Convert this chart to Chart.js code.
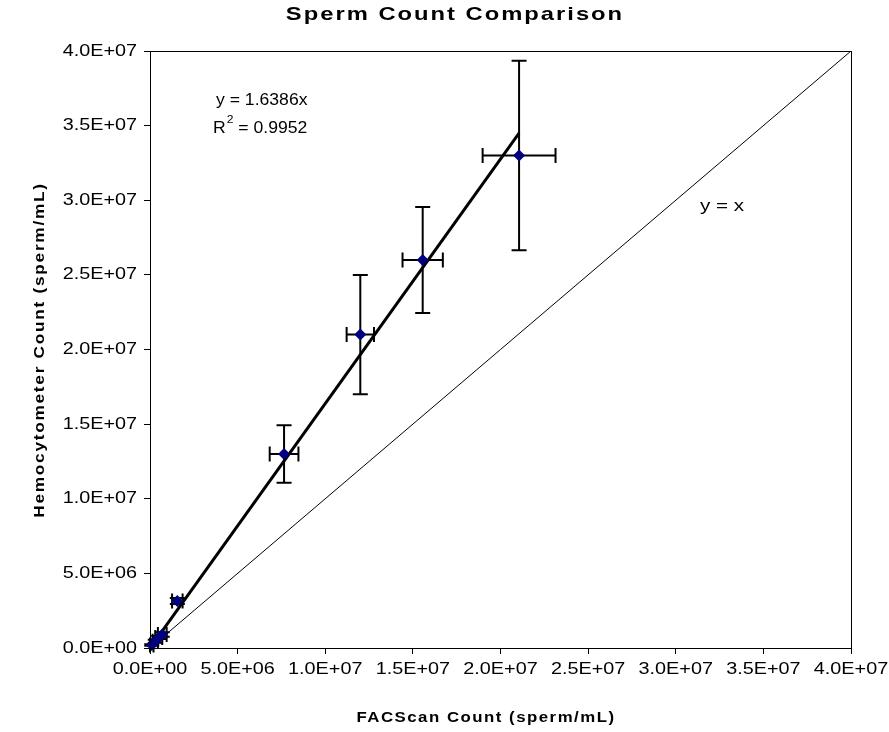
<!DOCTYPE html>
<html>
<head>
<meta charset="utf-8">
<script src="https://cdn.jsdelivr.net/npm/chart.js@4"></script>
<style>
  html, body { margin: 0; padding: 0; background: #fff; }
  #wrap { width: 889px; height: 732px; }
</style>
</head>
<body>
<div id="wrap"><canvas id="chart" width="889" height="732"></canvas></div>
<script>
// values (sperm/mL)
const facsCount = [0.1e6, 0.3e6, 0.5e6, 0.7e6, 1.56e6, 7.65e6, 12.0e6, 15.56e6, 21.06e6];
const hemoCount = [0.2e6, 0.45e6, 0.7e6, 0.9e6, 3.15e6, 13.0e6, 21.0e6, 26.0e6, 33.0e6];
const facsErr = [0.1e6, 0.15e6, 0.2e6, 0.25e6, 0.3e6, 0.82e6, 0.78e6, 1.15e6, 2.08e6];
const hemoErr = [0.05e6, 0.1e6, 0.1e6, 0.15e6, 0.2e6, 1.93e6, 4.0e6, 3.55e6, 6.35e6];

// fitted line y = 1.6386x, end points as drawn
const trendX = [0.1e6, 21.06e6];
const trendY = [0.16e6, 34.5e6];

// reference line y = x
const identityX = [0, 4.0e7];
const identityY = [0, 4.0e7];

const FONT = "'Liberation Sans', Arial, sans-serif";

const fmtSci = (v) => {
    if (v === 0) return '0.0E+00';
    const [m, e] = v.toExponential(1).toUpperCase().split('E');
    const n = parseInt(e, 10);
    return m + 'E' + (n < 0 ? '-' : '+') + String(Math.abs(n)).padStart(2, '0');
};

const toPoints = (xs, ys) => xs.map((x, i) => ({ x: x, y: ys[i] }));

// the picture's text is a bit wider than plain Arial, so stretch it horizontally
const wideText = (ctx, text, x, y, opts) => {
    ctx.save();
    ctx.translate(x, y);
    if (opts.rotate) ctx.rotate(opts.rotate);
    ctx.scale(opts.sx || 1, 1);
    ctx.font = opts.font;
    ctx.letterSpacing = opts.spacing || '0px';
    ctx.textAlign = opts.align || 'left';
    ctx.textBaseline = 'middle';
    ctx.fillStyle = '#000';
    ctx.fillText(text, 0, 0);
    const w = ctx.measureText(text).width * (opts.sx || 1);
    ctx.restore();
    return w;
};

const errorBars = {
    id: 'errorBars',
    beforeDatasetsDraw: (chart) => {
        const ctx = chart.ctx;
        const sx = chart.scales.x;
        const sy = chart.scales.y;
        const cap = 7.5;
        ctx.save();
        ctx.strokeStyle = '#000';
        ctx.lineWidth = 2;
        facsCount.forEach((x, i) => {
            const px = sx.getPixelForValue(x);
            const py = sy.getPixelForValue(hemoCount[i]);
            const x0 = sx.getPixelForValue(x - facsErr[i]);
            const x1 = sx.getPixelForValue(x + facsErr[i]);
            const y0 = sy.getPixelForValue(hemoCount[i] - hemoErr[i]);
            const y1 = sy.getPixelForValue(hemoCount[i] + hemoErr[i]);
            ctx.beginPath();
            ctx.moveTo(x0, py); ctx.lineTo(x1, py);
            ctx.moveTo(x0, py - cap); ctx.lineTo(x0, py + cap);
            ctx.moveTo(x1, py - cap); ctx.lineTo(x1, py + cap);
            ctx.moveTo(px, y0); ctx.lineTo(px, y1);
            ctx.moveTo(px - cap, y0); ctx.lineTo(px + cap, y0);
            ctx.moveTo(px - cap, y1); ctx.lineTo(px + cap, y1);
            ctx.stroke();
        });
        ctx.restore();
    }
};

const frameAndText = {
    id: 'frameAndText',
    afterDraw: (chart) => {
        const ctx = chart.ctx;
        const a = chart.chartArea;
        ctx.save();
        ctx.strokeStyle = '#000';
        ctx.lineWidth = 1;
        ctx.strokeRect(Math.round(a.left) + 0.5, Math.round(a.top) + 0.5,
            Math.round(a.right - a.left), Math.round(a.bottom - a.top));
        ctx.restore();

        // tick labels from the library's own ticks
        const tickFont = '16.5px ' + FONT;
        const sx = chart.scales.x;
        const sy = chart.scales.y;
        sx.ticks.forEach(t => {
            wideText(ctx, fmtSci(t.value), sx.getPixelForValue(t.value), 669,
                { font: tickFont, sx: 1.2, align: 'center' });
        });
        sy.ticks.forEach(t => {
            wideText(ctx, fmtSci(t.value), 137, sy.getPixelForValue(t.value),
                { font: tickFont, sx: 1.2, align: 'right' });
        });

        wideText(ctx, 'Sperm Count Comparison', 455, 15,
            { font: 'bold 19px ' + FONT, sx: 1.25, spacing: '1.6px', align: 'center' });
        wideText(ctx, 'FACScan Count (sperm/mL)', 486, 718,
            { font: 'bold 14px ' + FONT, sx: 1.2, spacing: '1.25px', align: 'center' });
        wideText(ctx, 'Hemocytometer Count (sperm/mL)', 40, 350,
            { font: 'bold 15px ' + FONT, rotate: -Math.PI / 2, sx: 1.15, spacing: '1.5px', align: 'center' });

        const eq = { font: '16px ' + FONT, sx: 1.1 };
        wideText(ctx, 'y = 1.6386x', 216, 101, eq);
        let w = wideText(ctx, 'R', 213, 129, eq);
        w += wideText(ctx, '2', 213 + w + 1, 120, { font: '11px ' + FONT, sx: 1.1 });
        wideText(ctx, ' = 0.9952', 213 + w + 1, 129, eq);

        wideText(ctx, 'y = x', 700, 206, { font: '16.5px ' + FONT, sx: 1.25 });
    }
};

const axisOpts = (fitKey, fitVal) => ({
    type: 'linear',
    min: 0,
    max: 4.0e7,
    ticks: {
        stepSize: 5.0e6,
        color: 'rgba(0,0,0,0)',
        font: { family: FONT, size: 16 },
        callback: (v) => fmtSci(v),
        maxRotation: 0,
        autoSkip: false
    },
    grid: {
        drawOnChartArea: false,
        drawTicks: true,
        tickLength: 6,
        color: '#000'
    },
    border: { display: true, color: '#000', width: 1 },
    afterFit: (scale) => { scale[fitKey] = fitVal; }
});

new Chart(document.getElementById('chart').getContext('2d'), {
    type: 'scatter',
    data: {
        datasets: [
            {
                label: 'Counts',
                data: toPoints(facsCount, hemoCount),
                pointStyle: 'rectRot',
                pointRadius: 6,
                pointBackgroundColor: '#000080',
                pointBorderColor: '#000080',
                pointBorderWidth: 0,
                clip: false,
                order: 0
            },
            {
                label: 'Fit',
                data: toPoints(trendX, trendY),
                showLine: true,
                borderColor: '#000',
                borderWidth: 3,
                pointRadius: 0,
                order: 1
            },
            {
                label: 'y = x',
                data: toPoints(identityX, identityY),
                showLine: true,
                borderColor: '#000',
                borderWidth: 1,
                pointRadius: 0,
                order: 2
            }
        ]
    },
    options: {
        responsive: false,
        animation: false,
        layout: { padding: { left: 0, right: 38, top: 51, bottom: 0 } },
        plugins: {
            legend: { display: false },
            tooltip: { enabled: false },
            title: { display: false }
        },
        scales: {
            x: axisOpts('height', 84),
            y: axisOpts('width', 150)
        }
    },
    plugins: [errorBars, frameAndText]
});
</script>
</body>
</html>
